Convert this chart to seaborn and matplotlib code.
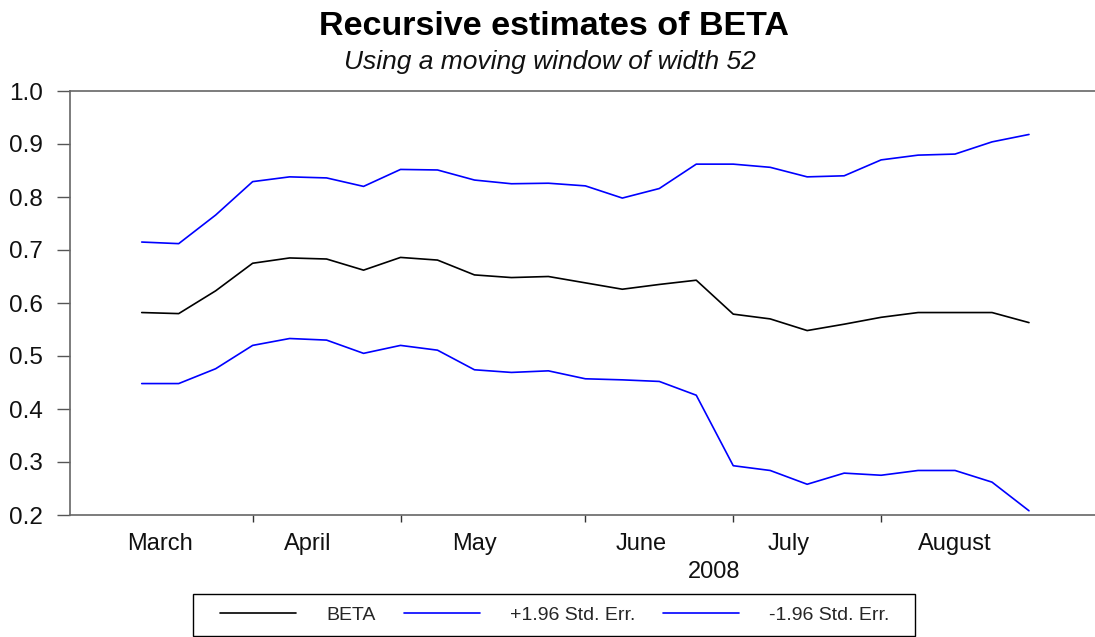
import numpy as np
import pandas as pd
import matplotlib
matplotlib.use("Agg")
import matplotlib.pyplot as plt
import matplotlib.dates as mdates
from matplotlib.patches import Rectangle
from matplotlib.ticker import FixedLocator, NullFormatter, FixedFormatter
import seaborn as sns

# Weekly (Friday) observations, 2008
weeks = pd.date_range("2008-03-14", "2008-08-29", freq="W-FRI")

beta = [0.582, 0.580, 0.623, 0.675, 0.685, 0.683, 0.662, 0.686, 0.681, 0.653,
        0.648, 0.650, 0.638, 0.626, 0.635, 0.643, 0.579, 0.570, 0.548, 0.560,
        0.573, 0.582, 0.582, 0.582, 0.563]
upper = [0.715, 0.712, 0.766, 0.829, 0.838, 0.836, 0.820, 0.852, 0.851, 0.832,
         0.825, 0.826, 0.821, 0.798, 0.816, 0.862, 0.862, 0.856, 0.838, 0.840,
         0.870, 0.879, 0.881, 0.904, 0.918]
lower = [0.448, 0.448, 0.476, 0.520, 0.533, 0.530, 0.505, 0.520, 0.511, 0.474,
         0.469, 0.472, 0.457, 0.455, 0.452, 0.426, 0.293, 0.284, 0.258, 0.279,
         0.275, 0.284, 0.284, 0.262, 0.208]

series_names = ["BETA", "+1.96 Std. Err.", "-1.96 Std. Err."]
series_colors = ["#000000", "#0000FF", "#0000FF"]
month_names = ["March", "April", "May", "June", "July", "August"]
year_label = "2008"
y_ticks = [0.2, 0.3, 0.4, 0.5, 0.6, 0.7, 0.8, 0.9, 1.0]

title = "Recursive estimates of BETA"
subtitle = "Using a moving window of width 52"

sns.set_theme(style="white")
plt.rcParams["font.family"] = ["Liberation Sans", "DejaVu Sans"]

df = pd.DataFrame({"date": weeks,
                   series_names[0]: beta,
                   series_names[1]: upper,
                   series_names[2]: lower})
long_df = df.melt(id_vars="date", var_name="series", value_name="value")

W, H = 1095, 637
fig = plt.figure(figsize=(W / 100, H / 100), dpi=100)
ax = fig.add_axes([70 / W, 1 - 515 / H, 1 - 70 / W, (515 - 91) / H])

sns.lineplot(data=long_df, x="date", y="value", hue="series",
             hue_order=series_names,
             palette=dict(zip(series_names, series_colors)),
             linewidth=1.2, ax=ax, legend=False)

# Calendar of the weekly sample (first week is the start of the window)
calendar = pd.date_range("2008-03-07", "2008-08-29", freq="W-FRI")
cal = pd.Series(calendar, index=calendar)
groups = cal.groupby(cal.dt.month)
month_first = [g.iloc[0] for _, g in groups]
month_centre = [g.mean() for _, g in groups]

ax.set_xlim(mdates.date2num(pd.Timestamp("2008-02-29 10:00")),
            mdates.date2num(pd.Timestamp("2008-09-10 12:00")))
ax.set_ylim(0.2, 1.0)

ax.xaxis.set_major_locator(FixedLocator(mdates.date2num(month_first[1:])))
ax.xaxis.set_major_formatter(NullFormatter())
ax.xaxis.set_minor_locator(FixedLocator(mdates.date2num(month_centre)))
ax.xaxis.set_minor_formatter(FixedFormatter(month_names))

ax.set_yticks(y_ticks)
ax.set_yticklabels([f"{v:.1f}" for v in y_ticks])

ax.tick_params(axis="x", which="major", direction="out", length=5, width=1,
               color="#333333", bottom=True)
ax.tick_params(axis="x", which="minor", length=0, pad=13, labelsize=17,
               labelcolor="#111111", bottom=True)
ax.tick_params(axis="y", direction="out", length=9.5, width=1, pad=10,
               labelsize=17.5, color="#555555", labelcolor="#111111", left=True)

ax.set_xlabel("")
ax.set_ylabel("")
ax.grid(False)
for side in ["left", "top", "bottom"]:
    ax.spines[side].set_color("#666666")
    ax.spines[side].set_linewidth(1.2)
ax.spines["right"].set_visible(False)

fig.text(714 / W, 1 - 572 / H, year_label, ha="center", va="center",
         fontsize=17, color="#111111")

fig.text(554 / W, 1 - 35 / H, title, ha="center", va="baseline",
         fontsize=24.5, fontweight="bold", color="#000000")
fig.text(550 / W, 1 - 69 / H, subtitle, ha="center", va="baseline",
         fontsize=19, fontstyle="italic", color="#111111")

# Legend entries, with a plain rectangular box drawn around them
handles = ax.get_lines()[:3]
leg = fig.legend(handles, series_names, loc="center",
                 bbox_to_anchor=(555 / W, 1 - 615 / H), ncol=3,
                 fontsize=14, frameon=False,
                 handlelength=3.9, handletextpad=1.55, columnspacing=1.45,
                 borderpad=0.0, borderaxespad=0)
for line in leg.get_lines():
    line.set_linewidth(1.2)
fig.patches.append(Rectangle((193 / W, 1 - 636 / H), (915 - 193) / W, 42 / H,
                             transform=fig.transFigure, fill=False,
                             edgecolor="#000000", linewidth=1.0))

fig.savefig("out.png", dpi=100)
